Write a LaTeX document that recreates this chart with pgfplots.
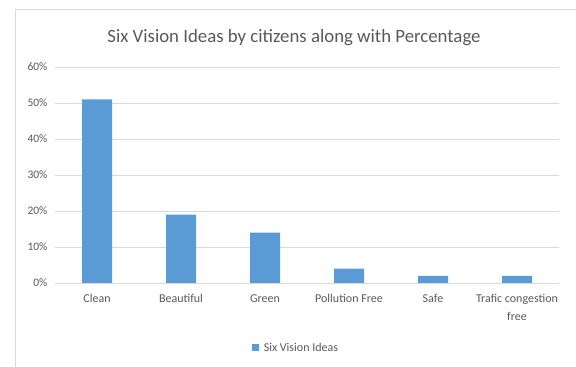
\documentclass[border=0pt]{standalone}
\usepackage{pgfplots}
\pgfplotsset{compat=1.18}
\usepackage{fontspec}
\setmainfont{Carlito}
\definecolor{barblue}{HTML}{5B9BD5}
\definecolor{txtgray}{HTML}{595959}
\definecolor{gridgray}{HTML}{D9D9D9}
\begin{document}
\begin{tikzpicture}[x=1pt,y=1pt]
\useasboundingbox (0,0) rectangle (576,367);
\draw[gridgray, line width=0.8pt] (15,-5) -- (15,358) -- (590,358);
\node[txtgray, font=\fontsize{18.8}{22}\selectfont] at (294,329) {Six Vision Ideas by citizens along with Percentage};
\begin{axis}[
  at={(55pt,84pt)}, anchor=south west,
  scale only axis, width=504pt, height=216pt,
  xmin=-0.5, xmax=5.5, ymin=0, ymax=60,
  ytick={0,10,20,30,40,50,60},
  yticklabel={\pgfmathprintnumber{\tick}\%},
  /pgf/number format/assume math mode=true,
  xtick={0,1,2,3,4,5},
  xticklabels={Clean,Beautiful,Green,Pollution Free,Safe,{Trafic congestion\\free}},
  xticklabel style={align=center, text=txtgray, font=\fontsize{12}{18}\selectfont, yshift=-8pt},
  yticklabel style={text=txtgray, font=\fontsize{11.5}{13}\selectfont, xshift=-4pt},
  major tick length=0pt,
  ymajorgrids, grid style={gridgray, line width=0.8pt},
  axis x line*=bottom,
  axis y line*=left,
  y axis line style={draw=none},
  x axis line style={gridgray, line width=0.8pt, -},
  ybar, bar width=30pt,
  legend style={at={(0.478,-0.3)}, anchor=center, draw=none, fill=none, text=txtgray, font=\fontsize{12}{14}\selectfont, legend cell align=left},
  legend image code/.code={\fill[barblue] (0pt,-3.5pt) rectangle (7pt,3.5pt);},
]
\addplot[fill=barblue, draw=none] coordinates {(0,51) (1,19) (2,14) (3,4) (4,2) (5,2)};
\addlegendentry{\hspace{3pt}Six Vision Ideas}
\end{axis}
\end{tikzpicture}
\end{document}
